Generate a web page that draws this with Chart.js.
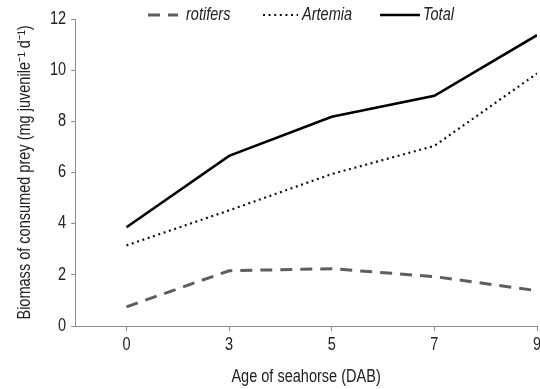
<!DOCTYPE html>
<html>
<head>
<meta charset="utf-8">
<script src="https://cdn.jsdelivr.net/npm/chart.js@4"></script>
<style>
html, body { margin: 0; padding: 0; background: #fff; }
#wrap { width: 540px; height: 389px; }
</style>
</head>
<body>
<div id="wrap"><canvas id="seaChart"></canvas></div>
<script>
// data
var ages = ['0', '3', '5', '7', '9'];
var rotifers = [0.75, 2.16, 2.24, 1.93, 1.38];
var artemia = [3.15, 4.52, 5.94, 7.04, 9.87];
var total = [3.86, 6.65, 8.18, 9.0, 11.37];
var yMin = 0, yMax = 12, yStep = 2;

var FONT = "'Liberation Sans', Arial, sans-serif";
var TXT = '#222';
var AXIS = '#8a8a8a';
var NARROW = 0.83; // no Arial Narrow installed, squeeze the text instead

function pts(arr) {
    return arr.map(function (v, i) { return { x: i, y: v }; });
}

var ctx = document.getElementById('seaChart');
var c2d = ctx.getContext('2d');
var origFill = c2d.fillText.bind(c2d);
var origMeasure = c2d.measureText.bind(c2d);
c2d.fillText = function (text, x, y, maxWidth) {
    c2d.save();
    c2d.translate(x, y);
    c2d.scale(NARROW, 1);
    if (maxWidth === undefined) origFill(text, 0, 0);
    else origFill(text, 0, 0, maxWidth / NARROW);
    c2d.restore();
};
c2d.measureText = function (text) {
    var m = origMeasure(text);
    return {
        width: m.width * NARROW,
        actualBoundingBoxAscent: m.actualBoundingBoxAscent,
        actualBoundingBoxDescent: m.actualBoundingBoxDescent
    };
};

// legend sits over the top of the plot, so draw it by hand
var topLegend = {
    id: 'topLegend',
    afterDraw: function (chart) {
        var g = chart.ctx;
        var sets = chart.data.datasets;
        var starts = [148, 263, 380];
        var lens = [30, 35, 40];
        var gaps = [8, 4, 3];
        var y = 15;
        g.save();
        g.font = 'italic 17.5px ' + FONT;
        sets.forEach(function (ds, i) {
            var x = starts[i];
            g.beginPath();
            g.strokeStyle = ds.borderColor;
            g.lineWidth = ds.borderWidth;
            g.setLineDash(ds.borderDash || []);
            g.moveTo(x, y);
            g.lineTo(x + lens[i], y);
            g.stroke();
            g.setLineDash([]);
            g.fillStyle = TXT;
            g.textBaseline = 'middle';
            g.fillText(ds.label, x + lens[i] + gaps[i], y);
        });
        g.restore();
    }
};

var seaChart = new Chart(ctx, {
    type: 'line',
    data: {
        datasets: [{
            label: 'rotifers',
            data: pts(rotifers),
            borderColor: '#5b605f',
            borderWidth: 3,
            borderDash: [12, 8]
        }, {
            label: 'Artemia',
            data: pts(artemia),
            borderColor: '#111',
            borderWidth: 2.2,
            borderDash: [2, 3.6]
        }, {
            label: 'Total',
            data: pts(total),
            borderColor: '#000',
            borderWidth: 2.6
        }]
    },
    options: {
        responsive: true,
        maintainAspectRatio: false,
        animation: false,
        layout: { padding: { top: 19, right: 3, left: 15, bottom: 1 } },
        elements: { point: { radius: 0 }, line: { tension: 0 } },
        plugins: { legend: { display: false }, tooltip: { enabled: false } },
        scales: {
            x: {
                type: 'linear',
                min: -0.5,
                max: ages.length - 1,
                afterBuildTicks: function (scale) {
                    scale.ticks = ages.map(function (a, i) { return { value: i }; });
                },
                afterFit: function (scale) {
                    // let the last label run to the edge like the original
                    scale.paddingRight = 0;
                },
                ticks: {
                    color: TXT,
                    font: { family: FONT, size: 17.5 },
                    padding: 4,
                    maxRotation: 0,
                    callback: function (v) { return ages[v]; }
                },
                grid: { drawOnChartArea: false, color: AXIS, tickLength: 5 },
                border: { color: AXIS },
                title: {
                    display: true,
                    text: 'Age of seahorse (DAB)',
                    color: TXT,
                    font: { family: FONT, size: 17.5 },
                    padding: { top: 7, bottom: 0 }
                }
            },
            y: {
                min: yMin,
                max: yMax,
                ticks: {
                    stepSize: yStep,
                    color: TXT,
                    font: { family: FONT, size: 17.5 },
                    padding: 5
                },
                grid: { drawOnChartArea: false, color: AXIS, tickLength: 4 },
                border: { color: AXIS },
                title: {
                    display: true,
                    text: 'Biomass of consumed prey (mg juvenile\u207B\u00B9 d\u207B\u00B9)',
                    color: TXT,
                    font: { family: FONT, size: 17.5 },
                    padding: { top: 0, bottom: 9 }
                }
            }
        }
    },
    plugins: [topLegend]
});
</script>
</body>
</html>
